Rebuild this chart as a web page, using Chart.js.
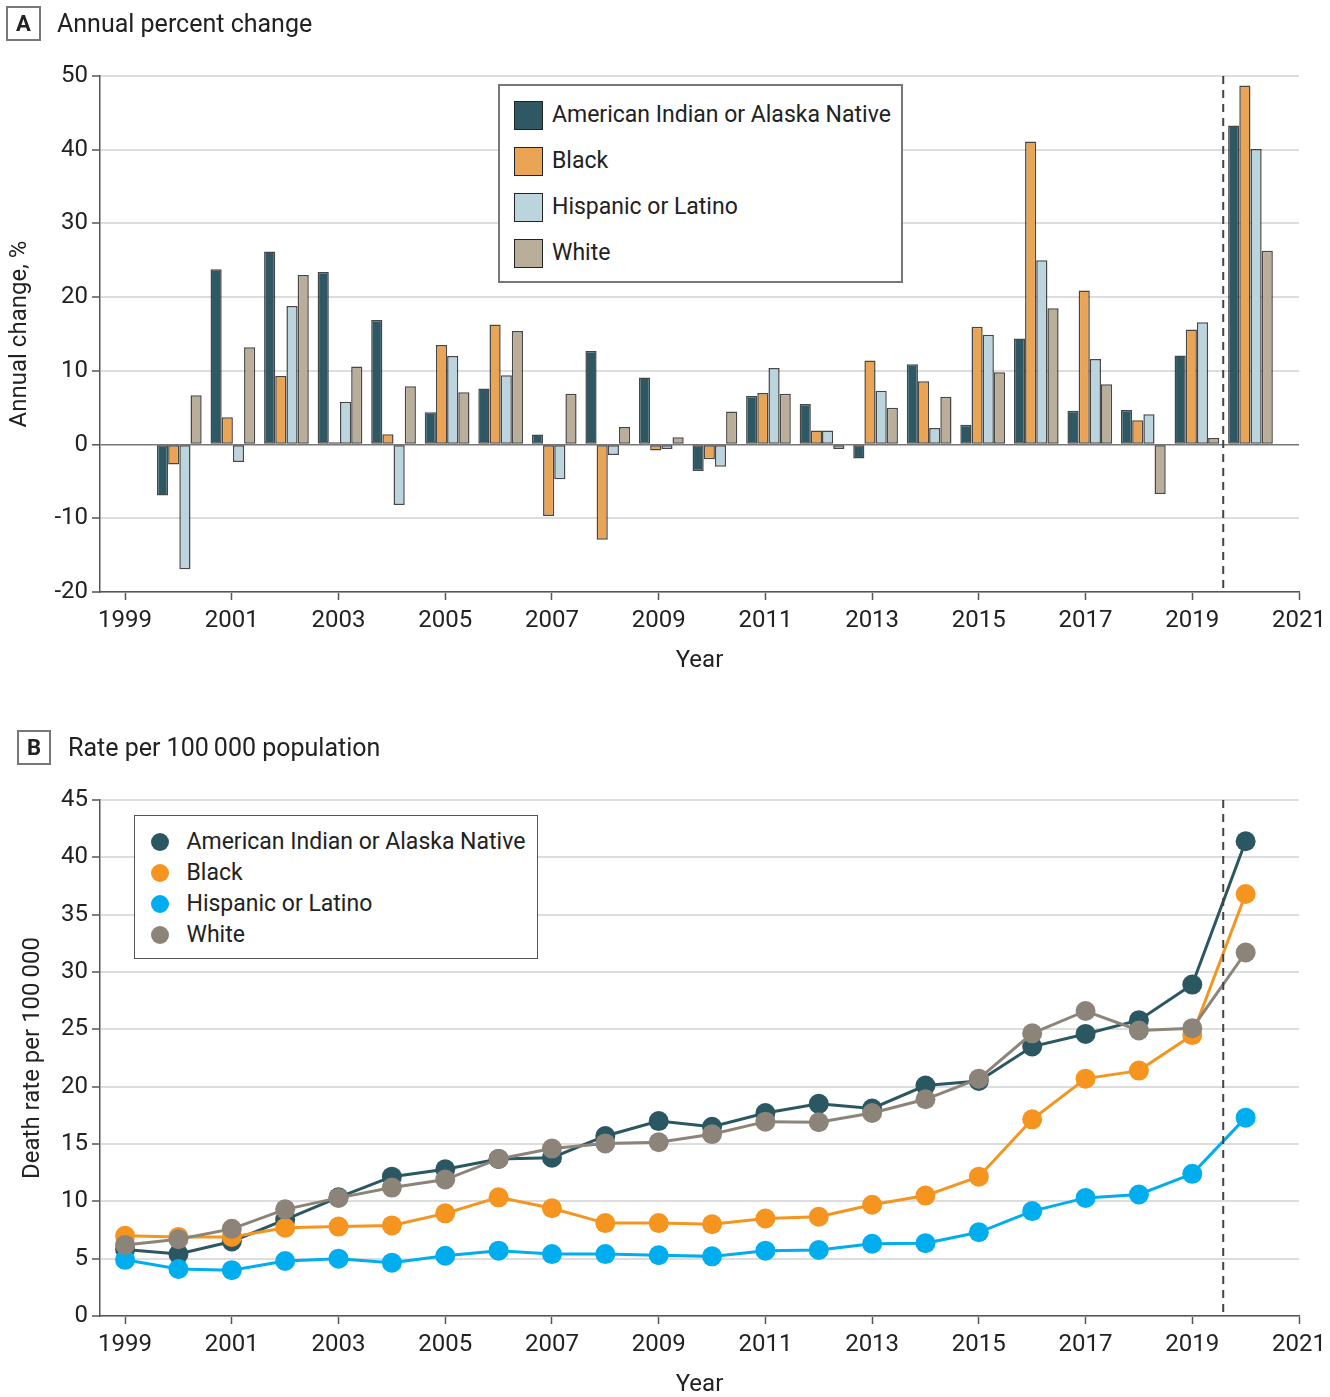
<!DOCTYPE html>
<html>
<head>
<meta charset="utf-8">
<script src="https://cdn.jsdelivr.net/npm/chart.js@4.4.1/dist/chart.umd.min.js"></script>
<style>
  html,body{margin:0;padding:0;background:#fff;}
  #page{position:relative;width:1330px;height:1397px;overflow:hidden;font-family:Roboto,'Noto Sans',sans-serif;color:#222;}
  canvas{position:absolute;left:0;}
  .tag{position:absolute;box-sizing:border-box;border:2px solid #777;font-weight:bold;font-size:22px;display:flex;align-items:center;justify-content:center;color:#222;}
  .head{position:absolute;font-size:25px;height:36px;line-height:36px;white-space:nowrap;color:#222;}
  .legend{position:absolute;box-sizing:border-box;background:#fff;}
  .row{position:absolute;white-space:nowrap;font-size:23px;color:#222;}
  .sw{position:absolute;box-sizing:border-box;}
</style>
</head>
<body>
<div id="page">
  <canvas id="chartA" width="1330" height="700" style="top:0;width:1330px;height:700px"></canvas>
  <canvas id="chartB" width="1330" height="697" style="top:700px;width:1330px;height:697px"></canvas>

  <div class="tag" style="left:6px;top:6px;width:35px;height:35px;">A</div>
  <div class="head" style="left:57px;top:6px;">Annual percent change</div>
  <div class="tag" style="left:17px;top:730px;width:34px;height:35px;">B</div>
  <div class="head" style="left:68px;top:730px;">Rate per 100&#8201;000 population</div>

  <div id="legA" class="legend" style="left:498px;top:84px;width:405px;height:199px;border:2px solid #777;"></div>
  <div id="legB" class="legend" style="left:134px;top:815px;width:404px;height:144px;border:1.5px solid #555;"></div>
</div>
<script>
// ---------------- data ----------------
const seriesNames = ['American Indian or Alaska Native', 'Black', 'Hispanic or Latino', 'White'];

const barYears = [2000, 2001, 2002, 2003, 2004, 2005, 2006, 2007, 2008, 2009, 2010,
                  2011, 2012, 2013, 2014, 2015, 2016, 2017, 2018, 2019, 2020];
const apcAIAN  = [-6.9, 23.8, 26.2, 23.4, 16.9, 4.4, 7.6, 1.35, 12.7, 9.1, -3.6,
                  6.6, 5.5, -1.9, 10.9, 2.7, 14.4, 4.6, 4.7, 12.1, 43.3];
const apcBlack = [-2.7, 3.7, 9.3, 0.3, 1.4, 13.5, 16.3, -9.7, -12.9, -0.8, -2.0,
                  7.0, 1.9, 11.4, 8.6, 16.0, 41.1, 20.9, 3.3, 15.6, 48.7];
const apcHisp  = [-16.9, -2.35, 18.8, 5.8, -8.2, 12.0, 9.4, -4.7, -1.4, -0.6, -3.0,
                  10.4, 1.9, 7.3, 2.25, 14.9, 25.0, 11.6, 4.1, 16.6, 40.1];
const apcWhite = [6.7, 13.2, 23.0, 10.6, 7.9, 7.1, 15.4, 6.9, 2.4, 1.0, 4.5,
                  6.9, -0.6, 5.0, 6.5, 9.8, 18.5, 8.2, -6.7, 0.9, 26.3];

const rateYears = [1999, 2000, 2001, 2002, 2003, 2004, 2005, 2006, 2007, 2008, 2009,
                   2010, 2011, 2012, 2013, 2014, 2015, 2016, 2017, 2018, 2019, 2020];
const rateAIAN  = [5.8, 5.4, 6.5, 8.4, 10.35, 12.15, 12.8, 13.7, 13.8, 15.7, 17.0,
                   16.5, 17.7, 18.5, 18.1, 20.1, 20.5, 23.5, 24.6, 25.8, 28.9, 41.4];
const rateBlack = [7.0, 6.9, 6.9, 7.7, 7.8, 7.9, 8.95, 10.35, 9.4, 8.1, 8.1,
                   8.0, 8.5, 8.66, 9.7, 10.5, 12.15, 17.15, 20.7, 21.4, 24.5, 36.8];
const rateHisp  = [4.9, 4.1, 4.0, 4.8, 5.0, 4.65, 5.25, 5.7, 5.4, 5.4, 5.3,
                   5.2, 5.7, 5.76, 6.3, 6.35, 7.3, 9.15, 10.3, 10.6, 12.4, 17.3];
const rateWhite = [6.2, 6.7, 7.6, 9.3, 10.3, 11.2, 11.9, 13.7, 14.6, 15.05, 15.15,
                   15.85, 16.95, 16.9, 17.7, 18.9, 20.7, 24.65, 26.6, 24.9, 25.1, 31.7];

const xTickYears = [1999, 2001, 2003, 2005, 2007, 2009, 2011, 2013, 2015, 2017, 2019, 2021];
const yTicksA = [-20, -10, 0, 10, 20, 30, 40, 50];
const yTicksB = [0, 5, 10, 15, 20, 25, 30, 35, 40, 45];
const dashYear = 2019.58;

// ---------------- styles ----------------
const FONT = "Roboto, 'Noto Sans', sans-serif";
const TEXT = '#222';
const AXIS = '#555';
const barColors  = ['#2e5964', '#e9a456', '#bcd4de', '#b9ae9a'];
const lineColors = ['#2b5762', '#f5951f', '#00aeef', '#8c8478'];
const X_MIN = 1998.53, X_MAX = 2021;
// the bar groups in the original sit on a slightly wider year spacing than the tick axis
const XB_MIN = 1998.519, XB_MAX = 2020.906;

const dashPlugin = {
  id: 'dashLine',
  afterDatasetsDraw(chart, args, opts) {
    const x = chart.scales.x.getPixelForValue(opts.value);
    const {top, bottom} = chart.chartArea;
    const ctx = chart.ctx;
    ctx.save();
    ctx.setLineDash([8, 6]);
    ctx.lineWidth = 2;
    ctx.strokeStyle = '#444';
    ctx.beginPath();
    ctx.moveTo(x, top);
    ctx.lineTo(x, bottom);
    ctx.stroke();
    ctx.restore();
  }
};

function xScale(axisHeight, titlePadBottom) {
  return {
    type: 'linear', min: X_MIN, max: X_MAX, offset: false,
    afterBuildTicks: s => { s.ticks = xTickYears.map(v => ({value: v})); },
    afterFit: s => { s.height = axisHeight; },
    ticks: {callback: v => String(v), font: {family: FONT, size: 24, lineHeight: 1.41}, color: TEXT,
            padding: 4, maxRotation: 0, autoSkip: false},
    grid: {drawOnChartArea: false, drawTicks: true, tickLength: 8, tickColor: AXIS, tickWidth: 1.5, offset: false},
    border: {color: AXIS, width: 1.5},
    title: {display: true, text: 'Year', font: {family: FONT, size: 24, lineHeight: 1.0}, color: TEXT,
            padding: {top: 0, bottom: titlePadBottom}}
  };
}

function yScale(tickVals, title, titlePadTop, zeroDark) {
  return {
    type: 'linear', min: tickVals[0], max: tickVals[tickVals.length - 1],
    afterBuildTicks: s => { s.ticks = tickVals.map(v => ({value: v})); },
    afterFit: s => { s.width = 100; },
    ticks: {font: {family: FONT, size: 24}, color: TEXT, padding: 4, callback: v => String(v)},
    grid: {
      drawOnChartArea: true, drawTicks: true, tickLength: 8, tickColor: AXIS, tickWidth: 1.5,
      color: c => (zeroDark && c.tick && c.tick.value === 0) ? '#777' : '#dddddd',
      lineWidth: c => (zeroDark && c.tick && c.tick.value === 0) ? 1.6 : 2
    },
    border: {color: AXIS, width: 1.5},
    title: {display: true, text: title, font: {family: FONT, size: 24}, color: TEXT,
            padding: {top: titlePadTop, bottom: 0}}
  };
}

// ---------------- Chart A ----------------
const apcSeries = [apcAIAN, apcBlack, apcHisp, apcWhite];
new Chart(document.getElementById('chartA'), {
  type: 'bar',
  data: {
    datasets: apcSeries.map((arr, k) => ({
      label: seriesNames[k],
      xAxisID: 'xBar',
      data: barYears.map((yr, i) => ({x: yr, y: arr[i]})),
      backgroundColor: barColors[k],
      borderColor: 'rgba(25,25,25,0.8)',
      borderWidth: 1.5,
      borderSkipped: false,
      categoryPercentage: 0.835,
      barPercentage: 1.0
    }))
  },
  options: {
    responsive: false, animation: false,
    layout: {padding: {top: 76, right: 31, left: 0, bottom: 0}},
    plugins: {legend: {display: false}, tooltip: {enabled: false}, dashLine: {value: dashYear}},
    scales: {
      x: xScale(108, 27.4),
      xBar: {type: 'linear', display: false, min: XB_MIN, max: XB_MAX, offset: false},
      y: yScale(yTicksA, 'Annual change, %', 6, true)
    }
  },
  plugins: [dashPlugin]
});

// ---------------- Chart B ----------------
const rateSeries = [rateAIAN, rateBlack, rateHisp, rateWhite];
new Chart(document.getElementById('chartB'), {
  type: 'line',
  data: {
    datasets: rateSeries.map((arr, k) => ({
      label: seriesNames[k],
      data: rateYears.map((yr, i) => ({x: yr, y: arr[i]})),
      borderColor: lineColors[k],
      backgroundColor: lineColors[k],
      pointBackgroundColor: lineColors[k],
      pointBorderWidth: 0,
      pointRadius: 10,
      borderWidth: 3,
      tension: 0,
      fill: false,
      order: 4 - k
    }))
  },
  options: {
    responsive: false, animation: false,
    layout: {padding: {top: 100, right: 31, left: 0, bottom: 0}},
    plugins: {legend: {display: false}, tooltip: {enabled: false}, dashLine: {value: dashYear}},
    scales: {
      x: xScale(81, 0.4),
      y: yScale(yTicksB, 'Death rate per 100\u2009000', 19, false)
    }
  },
  plugins: [dashPlugin]
});

// ---------------- HTML legends ----------------
const legA = document.getElementById('legA');
seriesNames.forEach((n, k) => {
  const cy = 115 + 46 * k - 84 - 2;
  const sw = document.createElement('div');
  sw.className = 'sw';
  sw.style.cssText = `left:${514-498-2}px;top:${cy-14.5}px;width:29px;height:29px;background:${barColors[k]};border:1.5px solid #222;`;
  legA.appendChild(sw);
  const t = document.createElement('div');
  t.className = 'row';
  t.textContent = n;
  t.style.cssText += `left:${552-498-2}px;top:${cy-15}px;height:30px;line-height:30px;`;
  legA.appendChild(t);
});
const legB = document.getElementById('legB');
seriesNames.forEach((n, k) => {
  const cy = 842 + 31 * k - 815 - 1.5;
  const sw = document.createElement('div');
  sw.className = 'sw';
  sw.style.cssText = `left:${160-134-1.5-9}px;top:${cy-9}px;width:18px;height:18px;border-radius:50%;background:${lineColors[k]};`;
  legB.appendChild(sw);
  const t = document.createElement('div');
  t.className = 'row';
  t.textContent = n;
  t.style.cssText += `left:${187-134-1.5}px;top:${cy-15}px;height:30px;line-height:30px;`;
  legB.appendChild(t);
});
</script>
</body>
</html>
